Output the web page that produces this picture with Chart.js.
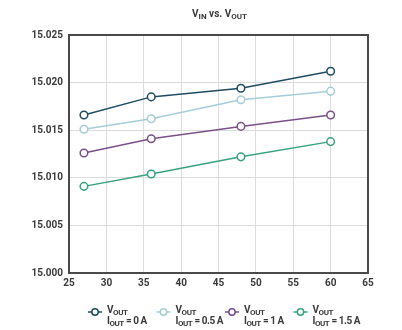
<!DOCTYPE html>
<html>
<head>
<meta charset="utf-8">
<script src="https://cdn.jsdelivr.net/npm/chart.js@4.4.1/dist/chart.umd.min.js"></script>
<style>
  html, body { margin: 0; padding: 0; background: #fff; }
  #wrap { width: 402px; height: 330px; position: relative; }
</style>
</head>
<body>
<div id="wrap"><canvas id="grafico"></canvas></div>
<script>
const vin = [27, 36, 48, 60];
const vout0 = [15.0166, 15.0185, 15.0194, 15.0212];
const vout05 = [15.0151, 15.0162, 15.0182, 15.0191];
const vout1 = [15.0126, 15.0141, 15.0154, 15.0166];
const vout15 = [15.0091, 15.0104, 15.0122, 15.0138];
const correntes = ["0 A", "0.5 A", "1 A", "1.5 A"];
const cores = ["#1f4c62", "#a6cdd8", "#7a5088", "#38a27c"];
const xTicks = [25, 30, 35, 40, 45, 50, 55, 60, 65];

const fonte = "Roboto, 'DejaVu Sans', sans-serif";
const corTexto = "#3a3a3a";

// texto com subscritos: partes [texto, subscrito?]
function textoRico(ctx, partes, x, y, tam) {
  let cx = x;
  partes.forEach(([t, sub]) => {
    const s = sub ? tam * 0.8 : tam;
    ctx.font = `bold ${s}px ${fonte}`;
    ctx.fillText(t, cx, sub ? y + tam * 0.3 : y);
    cx += ctx.measureText(t).width;
  });
  return cx - x;
}
function larguraRica(ctx, partes, tam) {
  let w = 0;
  partes.forEach(([t, sub]) => {
    ctx.font = `bold ${sub ? tam * 0.8 : tam}px ${fonte}`;
    w += ctx.measureText(t).width;
  });
  return w;
}

const moldura = {
  id: "moldura",
  beforeDatasetsDraw(chart) {
    const { ctx, chartArea: a } = chart;
    ctx.save();
    ctx.strokeStyle = "#4a4a4a";
    ctx.lineWidth = 2;
    ctx.strokeRect(a.left, a.top, a.right - a.left, a.bottom - a.top);
    ctx.restore();
  }
};

const titulo = {
  id: "titulo",
  afterDraw(chart) {
    const { ctx, chartArea: a } = chart;
    const partes = [["V", 0], ["IN", 1], [" vs. V", 0], ["OUT", 1]];
    ctx.save();
    ctx.fillStyle = corTexto;
    ctx.textBaseline = "middle";
    const w = larguraRica(ctx, partes, 10);
    textoRico(ctx, partes, (a.left + a.right) / 2 - w / 2 + 1, 14, 10);
    ctx.restore();
  }
};

// legenda com passo fixo entre itens
const legenda = {
  id: "legenda",
  afterDraw(chart) {
    const { ctx } = chart;
    const tam = 10, simb = 14, gap = 5, passo = 68.5;
    const y1 = 310, y2 = 321;
    ctx.save();
    ctx.textBaseline = "middle";
    chart.data.datasets.forEach((ds, i) => {
      const x = 88 + i * passo;
      ctx.letterSpacing = "0px";
      ctx.strokeStyle = ds.borderColor;
      ctx.lineWidth = 1.5;
      ctx.beginPath();
      ctx.moveTo(x, y1 + 2);
      ctx.lineTo(x + simb, y1 + 2);
      ctx.stroke();
      ctx.beginPath();
      ctx.arc(x + simb / 2, y1 + 2, 3.2, 0, Math.PI * 2);
      ctx.fillStyle = "#fff";
      ctx.fill();
      ctx.stroke();
      ctx.fillStyle = corTexto;
      ctx.letterSpacing = "-0.45px";
      const tx = x + simb + gap;
      textoRico(ctx, [["V", 0], ["OUT", 1]], tx, y1, tam);
      textoRico(ctx, [["I", 0], ["OUT", 1], [" = " + correntes[i], 0]], tx, y2, tam);
    });
    ctx.restore();
  }
};

const series = [vout0, vout05, vout1, vout15];
const datasets = series.map((s, i) => ({
  label: "VOUT IOUT = " + correntes[i],
  data: vin.map((v, k) => ({ x: v, y: s[k] })),
  borderColor: cores[i],
  backgroundColor: "#fff",
  pointBackgroundColor: "#fff",
  borderWidth: 1.5,
  pointRadius: 3.8,
  pointBorderWidth: 1.5,
  tension: 0
}));

new Chart(document.getElementById("grafico"), {
  type: "line",
  data: { datasets },
  options: {
    responsive: true,
    maintainAspectRatio: false,
    animation: false,
    layout: { padding: { top: 35, right: 34, left: 0, bottom: 0 } },
    plugins: { legend: { display: false }, tooltip: { enabled: false } },
    scales: {
      x: {
        type: "linear",
        min: 25, max: 65,
        afterBuildTicks: s => { s.ticks = xTicks.map(v => ({ value: v })); },
        afterFit: s => { s.height = 57; },
        grid: { color: "#dcdcdc", drawTicks: false },
        border: { display: false },
        ticks: { color: corTexto, padding: 4, font: { family: fonte, size: 10, weight: "bold" } }
      },
      y: {
        min: 15.000, max: 15.025,
        afterFit: s => { s.width = 69; },
        grid: { color: "#dcdcdc", drawTicks: false },
        border: { display: false },
        ticks: {
          stepSize: 0.005, color: corTexto, padding: 6,
          font: { family: fonte, size: 10, weight: "bold" },
          callback: v => v.toFixed(3)
        }
      }
    }
  },
  plugins: [moldura, titulo, legenda]
});
</script>
</body>
</html>
